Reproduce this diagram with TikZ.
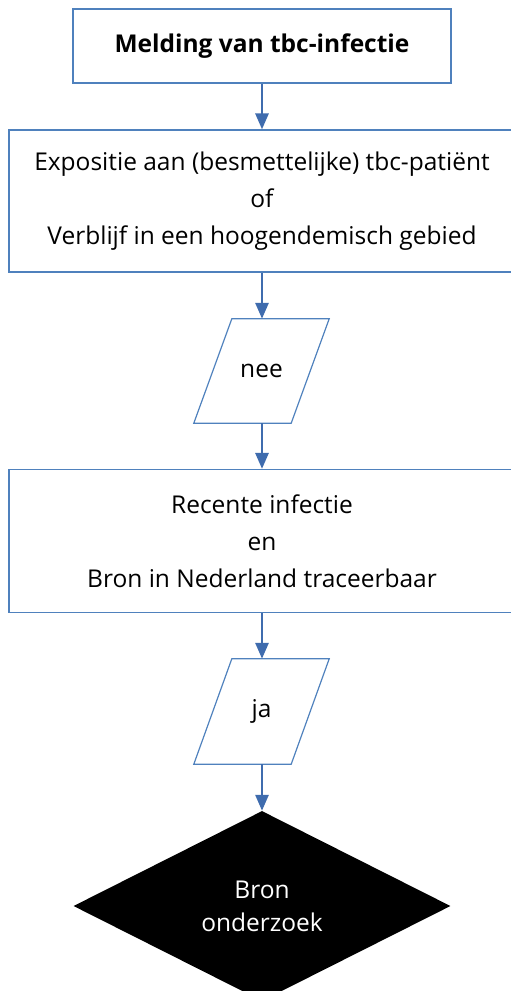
\documentclass[tikz,border=0pt]{standalone}
\usepackage{fontspec}
\setmainfont{Open Sans}
\usetikzlibrary{shapes.geometric,arrows.meta}
\definecolor{lijnblauw}{HTML}{4F81BD}
\definecolor{pijlblauw}{HTML}{3F6CAE}
\tikzset{
  stap/.style={draw=lijnblauw, line width=1.2pt, rectangle, align=center, inner sep=0pt},
  invoer/.style={rectangle, inner sep=0pt, minimum width=97pt},
  schuin/.style={draw=lijnblauw, line width=1.2pt, line join=miter},
  beslis/.style={diamond, fill=black, text=white, align=center, inner sep=0pt},
  pijl/.style={-{Triangle[length=16pt,width=13pt]}, draw=pijlblauw, line width=2.8pt}
}
\begin{document}
\begin{tikzpicture}[x=1pt,y=-1pt,font=\fontsize{24.5}{37}\selectfont]
  \clip (0,0) rectangle (511,991);
  \useasboundingbox (0,0) rectangle (511,991);

  % Melding
  \node[stap, minimum width=378pt, minimum height=74pt] (melding) at (262,46) {\textbf{Melding van tbc-infectie}};

  % Expositie
  \node[stap, minimum width=506pt, minimum height=142pt] (expositie) at (262,201)
    {Expositie aan (besmettelijke) tbc-patiënt\\of\\Verblijf in een hoogendemisch gebied};

  % nee
  \node[invoer, minimum height=104pt] (nee) at (261.5,371) {nee};
  \draw[schuin] ([xshift=-19pt]nee.south west) -- ([xshift=19pt]nee.north west)
    -- ([xshift=19pt]nee.north east) -- ([xshift=-19pt]nee.south east) -- cycle;

  % Recente infectie
  \node[stap, minimum width=506pt, minimum height=143pt] (recent) at (262,541)
    {Recente infectie\\en\\Bron in Nederland traceerbaar};

  % ja
  \node[invoer, minimum height=105pt] (ja) at (261.5,711.5) {ja};
  \draw[schuin] ([xshift=-19pt]ja.south west) -- ([xshift=19pt]ja.north west)
    -- ([xshift=19pt]ja.north east) -- ([xshift=-19pt]ja.south east) -- cycle;

  % Bron onderzoek
  \node[beslis, minimum width=377pt, minimum height=190pt, font=\fontsize{24.5}{33}\selectfont] (bron) at (262,906) {Bron\\onderzoek};

  % Pijlen
  \draw[pijl] (melding) -- (expositie);
  \draw[pijl] (expositie) -- (nee.north -| expositie);
  \draw[pijl] (nee.south -| expositie) -- (recent);
  \draw[pijl] (recent) -- (ja.north -| recent);
  \draw[pijl] (ja.south -| recent) -- (bron);
\end{tikzpicture}
\end{document}
